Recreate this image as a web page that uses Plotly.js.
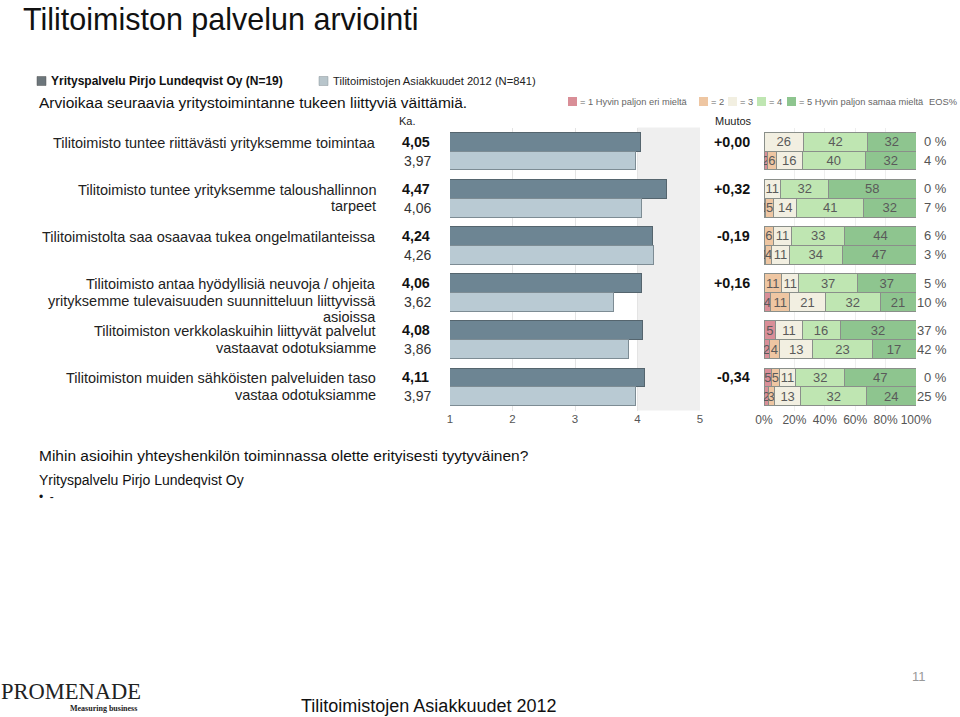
<!DOCTYPE html>
<html><head><meta charset="utf-8">
<script src="https://cdn.plot.ly/plotly-3.0.1.min.js"></script>
<style>html,body{margin:0;padding:0;background:#fff}#chart{width:960px;height:717px}</style>
</head><body><div id="chart"></div>
<script>
const questions = [
  "Tilitoimisto tuntee riittävästi yrityksemme toimintaa",
  "Tilitoimisto tuntee yrityksemme taloushallinnon<br>tarpeet",
  "Tilitoimistolta saa osaavaa tukea ongelmatilanteissa",
  "Tilitoimisto antaa hyödyllisiä neuvoja / ohjeita<br>yrityksemme tulevaisuuden suunnitteluun liittyvissä<br>asioissa",
  "Tilitoimiston verkkolaskuihin liittyvät palvelut<br>vastaavat odotuksiamme",
  "Tilitoimiston muiden sähköisten palveluiden taso<br>vastaa odotuksiamme"
];
const companyName = "Yrityspalvelu Pirjo Lundeqvist Oy (N=19)";
const benchName = "Tilitoimistojen Asiakkuudet 2012 (N=841)";
const companyAvg = [4.05, 4.47, 4.24, 4.06, 4.08, 4.11];
const benchAvg   = [3.97, 4.06, 4.26, 3.62, 3.86, 3.97];
const change     = [0.00, 0.32, -0.19, 0.16, null, -0.34];
// distribution (%) per answer level 1..5
const company1 = [0, 0, 0, 0, 5, 5];
const company2 = [0, 0, 6, 11, 0, 5];
const company3 = [26, 11, 11, 11, 11, 11];
const company4 = [42, 32, 33, 37, 16, 32];
const company5 = [32, 58, 44, 37, 32, 47];
const bench1 = [2, 1, 1, 4, 2, 2];
const bench2 = [6, 5, 4, 11, 4, 3];
const bench3 = [16, 14, 11, 21, 13, 13];
const bench4 = [40, 41, 34, 32, 23, 32];
const bench5 = [32, 32, 47, 21, 17, 24];
const companyEos = [0, 0, 6, 5, 37, 0];
const benchEos   = [4, 7, 3, 10, 42, 25];
const levelLabels = ["= 1 Hyvin paljon eri mieltä", "= 2", "= 3", "= 4", "= 5 Hyvin paljon samaa mieltä"];
const avgTicks = [1, 2, 3, 4, 5];
const pctTicks = [0, 20, 40, 60, 80, 100];

const W = 960, H = 717;
const px = x => x / W, py = y => 1 - y / H;
const FONT = "Liberation Sans, Arial, sans-serif";
const levelColors = ["#d98e97", "#eec6a2", "#f2efe1", "#bfe6b2", "#8ec58f"];
const fmt = v => v.toFixed(2).replace('.', ',');

const n = questions.length;
const idx = questions.map((_, i) => i);
const yTop = idx.map(i => i - 0.2);
const yBot = idx.map(i => i + 0.2);
const yDomTop = 127.5, yDomBot = 410.5;
const rowPx = v => yDomTop + (v + 0.5) * (yDomBot - yDomTop) / n;

const traces = [];
traces.push({type:'bar', orientation:'h', x: companyAvg, y: yTop, width:0.4, xaxis:'x', yaxis:'y',
  marker:{color:'#6d8593', line:{color:'#55656e', width:1}}, hoverinfo:'x', showlegend:false});
traces.push({type:'bar', orientation:'h', x: benchAvg, y: yBot, width:0.4, xaxis:'x', yaxis:'y',
  marker:{color:'#b9cad3', line:{color:'#7d8c94', width:1}}, hoverinfo:'x', showlegend:false});

const compLevels = [company1, company2, company3, company4, company5];
const benchLevels = [bench1, bench2, bench3, bench4, bench5];
const compSum = idx.map(i => compLevels.reduce((s, a) => s + a[i], 0));
const benchSum = idx.map(i => benchLevels.reduce((s, a) => s + a[i], 0));
for (let k = 0; k < 5; k++) {
  const raw = compLevels[k].concat(benchLevels[k]);
  const xs = compLevels[k].map((v, i) => v / compSum[i] * 100).concat(benchLevels[k].map((v, i) => v / benchSum[i] * 100));
  traces.push({type:'bar', orientation:'h', x: xs, y: yTop.concat(yBot), width:0.4, xaxis:'x2', yaxis:'y2',
    marker:{color: levelColors[k], line:{color:'#8a8f8a', width:1}},
    text: raw.map(v => v ? String(v) : ''), textposition:'inside', insidetextanchor:'middle', textangle:0,
    textfont:{family:FONT, size:13, color:'#5a5a5a'}, constraintext:'none', hoverinfo:'text', showlegend:false});
}

const ann = [];
const A = (o) => ann.push(Object.assign({showarrow:false, xref:'paper', yref:'paper', xanchor:'left', yanchor:'middle', font:{family:FONT, size:13, color:'#222'}}, o));

A({text:'Tilitoimiston palvelun arviointi', x:px(21), y:py(19), font:{family:FONT, size:30.5, color:'#111'}});
A({text:'<b>'+companyName+'</b>', x:px(49), y:py(81), font:{family:FONT, size:12, color:'#111'}});
A({text:benchName, x:px(331), y:py(81), font:{family:FONT, size:11.2, color:'#222'}});
A({text:'Arvioikaa seuraavia yritystoimintanne tukeen liittyviä väittämiä.', x:px(37), y:py(103), font:{family:FONT, size:15.5, color:'#111'}});
A({text:'Ka.', x:px(397), y:py(121), font:{family:FONT, size:11, color:'#222'}});
A({text:'Muutos', x:px(733), y:py(121), xanchor:'center', font:{family:FONT, size:11, color:'#222'}});

// Likert legend
const legX = [568, 699, 728, 757, 787];
const shapes = [];
shapes.push({type:'rect', xref:'x', yref:'y domain', x0:4, x1:5, y0:0, y1:1, fillcolor:'#efefef', line:{width:0}, layer:'below'});
shapes.push({type:'rect', xref:'paper', yref:'paper', x0:px(37), x1:px(46), y0:py(85.5), y1:py(76.5), fillcolor:'#6c767b', line:{color:'#555', width:0.5}});
shapes.push({type:'rect', xref:'paper', yref:'paper', x0:px(319), x1:px(328), y0:py(85.5), y1:py(76.5), fillcolor:'#b8c5cb', line:{color:'#8a9499', width:0.5}});
for (let k = 0; k < 5; k++) {
  shapes.push({type:'rect', xref:'paper', yref:'paper', x0:px(legX[k]), x1:px(legX[k]+9), y0:py(106), y1:py(97), fillcolor:levelColors[k], line:{width:0}});
  A({text:levelLabels[k], x:px(legX[k]+10), y:py(101.5), font:{family:FONT, size:9.3, color:'#666'}});
}
A({text:'EOS%', x:px(959), y:py(101.5), xanchor:'right', font:{family:FONT, size:9.3, color:'#666'}});

const LINE_H = 16.5;
for (let i = 0; i < n; i++) {
  const lines = questions[i].split('<br>');
  lines.forEach((ln, j) => {
    A({text:ln, x:px(378), y:py(rowPx(i-0.2) + 1 + j*LINE_H), xanchor:'right', font:{family:FONT, size:14.5, color:'#222'}});
  });
  A({text:'<b>'+fmt(companyAvg[i])+'</b>', x:px(400), y:py(rowPx(i-0.2)), font:{family:FONT, size:14.3, color:'#111'}});
  A({text:fmt(benchAvg[i]), x:px(402), y:py(rowPx(i+0.2)), font:{family:FONT, size:14, color:'#333'}});
  if (change[i] !== null) {
    A({text:'<b>'+(change[i] >= 0 ? '+' : '')+fmt(change[i])+'</b>', x:px(752), y:py(rowPx(i-0.2)), xanchor:'right', font:{family:FONT, size:14.3, color:'#111'}});
  }
  A({text:companyEos[i]+' %', x:px(949), y:py(rowPx(i-0.2)), xanchor:'right', font:{family:FONT, size:13, color:'#555'}});
  A({text:benchEos[i]+' %', x:px(949), y:py(rowPx(i+0.2)), xanchor:'right', font:{family:FONT, size:13, color:'#555'}});
}

A({text:'Mihin asioihin yhteyshenkilön toiminnassa olette erityisesti tyytyväinen?', x:px(37), y:py(455), font:{family:FONT, size:15.5, color:'#111'}});
A({text:'Yrityspalvelu Pirjo Lundeqvist Oy', x:px(37), y:py(480), font:{family:FONT, size:14, color:'#111'}});
A({text:'•  -', x:px(37), y:py(497), font:{family:FONT, size:12, color:'#111'}});
A({text:'PROMENADE', x:px(-1), y:py(691), font:{family:'Liberation Serif, Times New Roman, serif', size:22.5, color:'#222'}});
A({text:'<b>Measuring business</b>', x:px(139), y:py(708), xanchor:'right', font:{family:'Liberation Serif, serif', size:8, color:'#222'}});
A({text:'Tilitoimistojen Asiakkuudet 2012', x:px(428), y:py(706), xanchor:'center', font:{family:FONT, size:18, color:'#111'}});
A({text:'11', x:px(928), y:py(676), xanchor:'right', font:{family:FONT, size:13, color:'#999'}});

const layout = {
  width: W, height: H, margin:{l:0, r:0, t:0, b:0}, paper_bgcolor:'#fff', plot_bgcolor:'rgba(0,0,0,0)',
  barmode:'stack', showlegend:false, font:{family:FONT},
  uniformtext:{mode:'show', minsize:13},
  xaxis:{domain:[px(450), px(700)], range:[1,5], anchor:'y', tickvals:avgTicks, ticktext:avgTicks.map(String), showgrid:true, gridcolor:'#e4e4e4', zeroline:false, showline:false, ticks:'', tickfont:{family:FONT, size:11.5, color:'#555'}, fixedrange:true},
  yaxis:{domain:[py(yDomBot), py(yDomTop)], range:[n-0.5, -0.5], visible:false, fixedrange:true},
  xaxis2:{domain:[px(764), px(916)], range:[0,100], anchor:'y2', tickvals:pctTicks, ticktext:pctTicks.map(v => v+'%'), showgrid:true, gridcolor:'#eeeeee', zeroline:false, showline:false, ticks:'', tickfont:{family:FONT, size:12, color:'#555'}, fixedrange:true},
  yaxis2:{domain:[py(yDomBot), py(yDomTop)], range:[n-0.5, -0.5], visible:false, anchor:'x2', fixedrange:true},
  shapes: shapes, annotations: ann
};
Plotly.newPlot('chart', traces, layout, {displayModeBar:false, staticPlot:true});
</script></body></html>
